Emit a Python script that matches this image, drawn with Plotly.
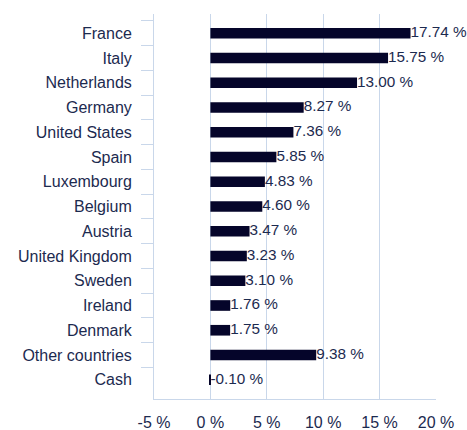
import plotly.graph_objects as go

countries = ["France", "Italy", "Netherlands", "Germany", "United States", "Spain",
             "Luxembourg", "Belgium", "Austria", "United Kingdom", "Sweden", "Ireland",
             "Denmark", "Other countries", "Cash"]
weights = [17.74, 15.75, 13.00, 8.27, 7.36, 5.85, 4.83, 4.60, 3.47, 3.23, 3.10, 1.76,
           1.75, 9.38, -0.10]
tick_vals = [-5, 0, 5, 10, 15, 20]
tick_text = ["-5 %", "0 %", "5 %", "10 %", "15 %", "20 %"]

labels = [f"{v:.2f} %" for v in weights]
label_x = [max(v, 0) for v in weights]

TEXT = "#1c2a4f"
GRID = "#c9d7ea"
BAR = "#05052a"
FONT = "Liberation Sans, Arial, Helvetica, sans-serif"
FS = 16

fig = go.Figure()
fig.add_trace(go.Bar(
    y=countries, x=weights, orientation="h",
    marker=dict(color=BAR, line=dict(width=0)),
    hoverinfo="skip",
))
fig.add_trace(go.Scatter(
    y=countries, x=label_x, mode="text", text=labels,
    textposition="middle right",
    textfont=dict(family=FONT, size=15.3, color=TEXT),
    cliponaxis=False, hoverinfo="skip",
))

fig.update_layout(
    width=467, height=430,
    margin=dict(l=154, r=31, t=14, b=31, autoexpand=False),
    paper_bgcolor="white", plot_bgcolor="white",
    showlegend=False, bargap=0.57,
    font=dict(family=FONT, size=FS, color=TEXT),
)
fig.update_xaxes(
    range=[-5, 20], tickvals=tick_vals, ticktext=tick_text,
    showgrid=True, gridcolor=GRID, gridwidth=1,
    zeroline=False, showline=True, linecolor=GRID, linewidth=1,
    ticks="", ticklabelstandoff=9, automargin=False,
    tickfont=dict(family=FONT, size=FS, color=TEXT),
)
fig.update_yaxes(
    categoryorder="array", categoryarray=countries, autorange="reversed",
    showline=True, linecolor=GRID, linewidth=1,
    ticks="outside", tickson="boundaries", ticklen=12, tickcolor=GRID, tickwidth=1,
    showgrid=False, ticklabelstandoff=18, automargin=False,
    tickfont=dict(family=FONT, size=FS, color=TEXT),
)

fig.write_html(
    "out.html",
    config={"displayModeBar": False},
    post_script="document.body.style.margin='0';document.body.style.overflow='hidden';",
)
